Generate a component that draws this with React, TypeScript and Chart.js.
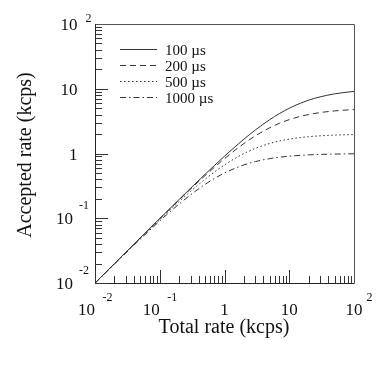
import React, { useEffect, useRef } from "react";
import { Chart, registerables } from "chart.js";

Chart.register(...registerables);

// Total rate (kcps)
const totalRate = [0.01, 0.02, 0.05, 0.1, 0.2, 0.5, 1, 2, 3, 5, 7, 10, 15, 20, 30, 50, 70, 100];
// Accepted rate (kcps) for each dead time
const acc100 = [0.00999, 0.01996, 0.0498, 0.099, 0.196, 0.476, 0.909, 1.667, 2.308, 3.333, 4.118, 5.0, 6.0, 6.667, 7.5, 8.333, 8.75, 9.091];
const acc200 = [0.00998, 0.01992, 0.0495, 0.098, 0.1923, 0.4545, 0.8333, 1.4286, 1.875, 2.5, 2.917, 3.333, 3.75, 4.0, 4.286, 4.545, 4.667, 4.762];
const acc500 = [0.00995, 0.0198, 0.0488, 0.0952, 0.1818, 0.4, 0.667, 1.0, 1.2, 1.429, 1.556, 1.667, 1.765, 1.818, 1.875, 1.923, 1.944, 1.961];
const acc1000 = [0.0099, 0.0196, 0.0476, 0.0909, 0.1667, 0.333, 0.5, 0.667, 0.75, 0.833, 0.875, 0.909, 0.9375, 0.952, 0.968, 0.98, 0.986, 0.99];

const seriesLabels = ["100 \u00b5s", "200 \u00b5s", "500 \u00b5s", "1000 \u00b5s"];
const seriesDash: number[][] = [[], [6, 4], [1.5, 2.5], [6, 3, 1.5, 3]];

// tick labels: [value, base, exponent]
const tickLabels: [number, string, string][] = [
  [0.01, "10", "-2"],
  [0.1, "10", "-1"],
  [1, "1", ""],
  [10, "10", ""],
  [100, "10", "2"],
];
const decades = [0.01, 0.1, 1, 10];
const xTitle = "Total rate (kcps)";
const yTitle = "Accepted rate (kcps)";

const SERIF = "'Liberation Serif', 'Times New Roman', serif";
const LINE = "#333";

const decorPlugin = {
  id: "decor",
  afterDraw(chart: any) {
    const ctx = chart.ctx as CanvasRenderingContext2D;
    const xs = chart.scales.x;
    const ys = chart.scales.y;
    const { left, right, top, bottom } = chart.chartArea;
    ctx.save();
    // frame
    ctx.strokeStyle = "#555";
    ctx.lineWidth = 1;
    ctx.beginPath();
    ctx.moveTo(left, top + 0.5);
    ctx.lineTo(right + 0.5, top + 0.5);
    ctx.lineTo(right + 0.5, bottom);
    ctx.stroke();
    ctx.strokeStyle = "#222";
    ctx.beginPath();
    ctx.moveTo(left + 0.5, top);
    ctx.lineTo(left + 0.5, bottom + 0.5);
    ctx.lineTo(right + 0.5, bottom + 0.5);
    ctx.stroke();

    // ticks
    ctx.strokeStyle = "#333";
    ctx.beginPath();
    for (const d of decades) {
      for (let m = 1; m <= 9; m++) {
        const v = d * m;
        const len = m === 1 ? 13 : 7;
        const px = Math.round(xs.getPixelForValue(v)) + 0.5;
        ctx.moveTo(px, bottom);
        ctx.lineTo(px, bottom - len);
        const py = Math.round(ys.getPixelForValue(v)) + 0.5;
        ctx.moveTo(left, py);
        ctx.lineTo(left + len, py);
      }
    }
    ctx.stroke();

    // tick labels
    ctx.fillStyle = "#111";
    for (const [v, base, exp] of tickLabels) {
      const neg = exp.startsWith("-");
      // x axis
      const px = xs.getPixelForValue(v);
      ctx.font = `17px ${SERIF}`;
      const bw = ctx.measureText(base).width;
      const bx = px - bw / 2 - (neg ? 8.5 : 0);
      ctx.textAlign = "left";
      ctx.textBaseline = "alphabetic";
      ctx.fillText(base, bx, 315);
      if (exp) {
        ctx.font = `12px ${SERIF}`;
        ctx.fillText(exp, bx + bw + (neg ? 7.5 : 4), 301);
      }
      // y axis
      const py = ys.getPixelForValue(v);
      ctx.font = `17px ${SERIF}`;
      ctx.textAlign = "right";
      const rx = neg ? 73 : 77.5;
      ctx.fillText(base, rx, py + 6);
      if (exp) {
        ctx.font = `12px ${SERIF}`;
        ctx.textAlign = "left";
        ctx.fillText(exp, neg ? 79 : 85.5, neg ? py - 9.5 : py - 2);
      }
    }

    // axis titles
    ctx.fillStyle = "#111";
    ctx.font = `20px ${SERIF}`;
    ctx.textAlign = "center";
    ctx.textBaseline = "alphabetic";
    ctx.fillText(xTitle, (left + right) / 2 - 0.5, 333);
    ctx.save();
    ctx.translate(31, 155);
    ctx.rotate(-Math.PI / 2);
    ctx.fillText(yTitle, 0, 0);
    ctx.restore();

    // legend
    chart.data.datasets.forEach((ds: any, i: number) => {
      const y = Math.round(49 + i * 16) + 0.5;
      ctx.strokeStyle = ds.borderColor;
      ctx.lineWidth = 1;
      ctx.setLineDash(ds.borderDash || []);
      ctx.beginPath();
      ctx.moveTo(120, y);
      ctx.lineTo(157, y);
      ctx.stroke();
      ctx.setLineDash([]);
      ctx.fillStyle = "#111";
      ctx.font = `15px ${SERIF}`;
      ctx.textAlign = "left";
      ctx.fillText(ds.label, 165, y + 5);
    });
    ctx.restore();
  },
};

export default function App() {
  const ref = useRef<HTMLCanvasElement | null>(null);
  useEffect(() => {
    if (!ref.current) return;
    const series = [acc100, acc200, acc500, acc1000];
    const chart = new Chart(ref.current, {
      type: "line",
      data: {
        datasets: series.map((s, i) => ({
          label: seriesLabels[i],
          data: totalRate.map((x, j) => ({ x, y: s[j] })),
          borderColor: LINE,
          borderWidth: 1,
          borderDash: seriesDash[i],
          pointRadius: 0,
          fill: false,
          cubicInterpolationMode: "monotone" as const,
        })),
      },
      options: {
        animation: false,
        responsive: false,
        devicePixelRatio: 1,
        layout: { padding: { left: 95, top: 24, right: 24, bottom: 95 } },
        plugins: { legend: { display: false }, tooltip: { enabled: false } },
        scales: {
          x: { type: "logarithmic", min: 0.01, max: 100, display: false },
          y: { type: "logarithmic", min: 0.01, max: 100, display: false },
        },
      },
      plugins: [decorPlugin],
    });
    return () => chart.destroy();
  }, []);
  return (
    <div style={{ position: "absolute", left: 0, top: 0, width: 378, height: 378, background: "#fff" }}>
      <canvas ref={ref} width={378} height={378} style={{ width: 378, height: 378, display: "block" }} />
    </div>
  );
}
